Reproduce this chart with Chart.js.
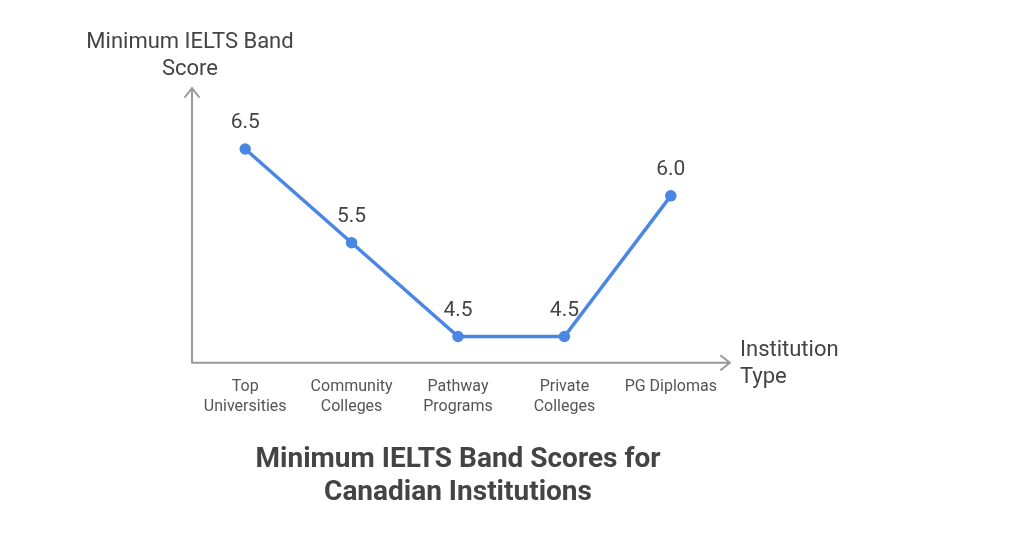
<!DOCTYPE html>
<html>
<head>
<meta charset="utf-8">
<script src="https://cdn.jsdelivr.net/npm/chart.js@4"></script>
<style>
  html, body { margin: 0; background: #fff; }
  #wrap { width: 1024px; height: 536px; }
</style>
</head>
<body>
<div id="wrap"><canvas id="chart"></canvas></div>
<script>
const categories = [['Top', 'Universities'], ['Community', 'Colleges'], ['Pathway', 'Programs'], ['Private', 'Colleges'], 'PG Diplomas'];
const scores = [6.5, 5.5, 4.5, 4.5, 6.0];
const yTitle = ['Minimum IELTS Band', 'Score'];
const xTitle = ['Institution', 'Type'];
const chartTitle = ['Minimum IELTS Band Scores for', 'Canadian Institutions'];

const FONT = 'Roboto, "Noto Sans", sans-serif';

// arrows, axis titles and point labels
const decorations = {
    id: 'decorations',
    afterDatasetsDraw(chart) {
        const { ctx, chartArea: a } = chart;
        ctx.save();
        ctx.strokeStyle = '#9a9a9a';
        ctx.lineWidth = 2;
        ctx.lineCap = 'round';
        ctx.lineJoin = 'round';
        ctx.beginPath();
        ctx.moveTo(a.left, a.top);
        ctx.lineTo(a.left, a.bottom);
        ctx.lineTo(a.right + 6, a.bottom);
        ctx.moveTo(a.left - 7, a.top + 9); ctx.lineTo(a.left, a.top); ctx.lineTo(a.left + 7, a.top + 9);
        ctx.moveTo(a.right - 3, a.bottom - 7); ctx.lineTo(a.right + 6, a.bottom); ctx.lineTo(a.right - 3, a.bottom + 7);
        ctx.stroke();

        ctx.fillStyle = '#444';
        ctx.font = '22px ' + FONT;
        ctx.textAlign = 'center';
        ctx.textBaseline = 'middle';
        ctx.fillText(yTitle[0], a.left - 2, a.top - 46);
        ctx.fillText(yTitle[1], a.left - 2, a.top - 19);
        ctx.textAlign = 'left';
        ctx.fillText(xTitle[0], a.right + 16, a.bottom - 12);
        ctx.fillText(xTitle[1], a.right + 16, a.bottom + 15);

        ctx.font = '21px ' + FONT;
        ctx.textAlign = 'center';
        const meta = chart.getDatasetMeta(0);
        meta.data.forEach((pt, i) => {
            ctx.fillText(scores[i].toFixed(1), pt.x, pt.y - 26);
        });
        ctx.restore();
    }
};

new Chart(document.getElementById('chart'), {
    type: 'line',
    data: {
        labels: categories,
        datasets: [{
            data: scores,
            borderColor: '#4a86e3',
            backgroundColor: '#4a86e3',
            borderWidth: 3.5,
            pointRadius: 4,
            tension: 0
        }]
    },
    options: {
        responsive: true,
        maintainAspectRatio: false,
        animation: false,
        layout: { padding: { left: 192, top: 88, right: 300 } },
        plugins: {
            legend: { display: false },
            tooltip: { enabled: false },
            title: {
                display: true,
                position: 'bottom',
                text: chartTitle,
                color: '#444',
                font: { family: FONT, size: 28, weight: 'bold', lineHeight: 1.2 },
                padding: { top: 12, bottom: 26 }
            }
        },
        scales: {
            x: {
                offset: true,
                grid: { display: false, drawTicks: false },
                border: { display: false },
                ticks: { color: '#555', font: { family: FONT, size: 16, lineHeight: 1.25 }, padding: 14, maxRotation: 0 }
            },
            y: {
                display: false,
                min: 4.22,
                max: 7.15
            }
        }
    },
    plugins: [decorations]
});
</script>
</body>
</html>
